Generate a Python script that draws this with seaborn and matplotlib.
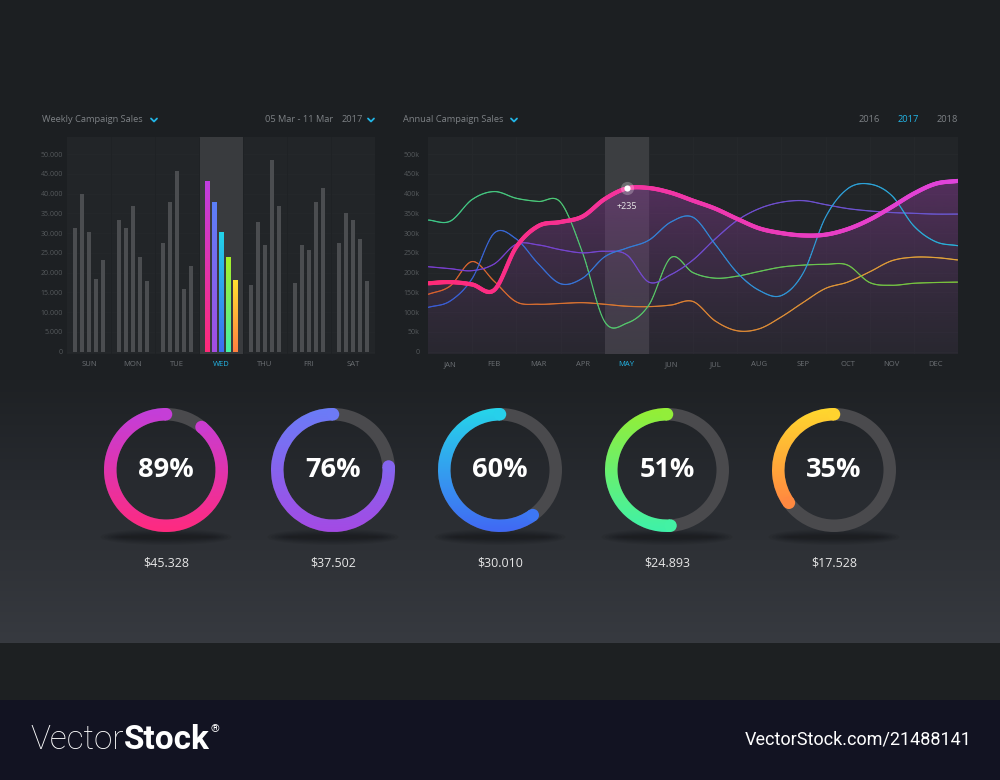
import numpy as np
import pandas as pd
import matplotlib
matplotlib.use("Agg")
import matplotlib.pyplot as plt
import seaborn as sns
from matplotlib.collections import LineCollection
from matplotlib.patches import Wedge, Circle, Ellipse, Polygon
from matplotlib.colors import to_rgb, LinearSegmentedColormap
from matplotlib.ticker import FuncFormatter

# ---- weekly campaign sales (5 campaigns per day) ----
days = ["SUN", "MON", "TUE", "WED", "THU", "FRI", "SAT"]
sales_a = [31200, 33300, 27600, 43200, 16800, 17400, 27600]
sales_b = [40000, 31300, 37800, 37800, 32700, 26900, 35200]
sales_c = [30200, 36900, 45800, 30200, 26900, 25600, 33400]
sales_d = [18500, 24000, 15900, 23900, 48500, 37800, 28500]
sales_e = [23200, 17800, 21800, 18000, 36900, 41300, 17800]
highlight_day = "WED"

# ---- annual campaign sales, in thousands, read every half month ----
months = ["JAN", "FEB", "MAR", "APR", "MAY", "JUN", "JUL", "AUG", "SEP", "OCT", "NOV", "DEC"]
half_month = np.arange(-0.5, 11.51, 0.5)
annual_main = [173, 176, 170, 156, 265, 318, 328, 342, 386, 413, 414, 402, 382,
               362, 336, 312, 300, 294, 296, 310, 334, 366, 400, 425, 432]
annual_green = [333, 330, 385, 405, 388, 380, 378, 250, 76, 72, 118, 238, 200,
                186, 191, 203, 214, 219, 221, 219, 175, 168, 173, 175, 176]
annual_blue = [112, 128, 185, 300, 285, 222, 172, 186, 240, 262, 282, 328, 340,
               272, 200, 155, 142, 200, 340, 412, 424, 395, 318, 278, 268]
annual_purple = [215, 210, 205, 222, 272, 270, 258, 250, 254, 245, 176, 195, 232,
                 285, 332, 362, 378, 382, 372, 362, 356, 352, 350, 348, 348]
annual_orange = [145, 166, 228, 178, 126, 120, 122, 124, 120, 115, 114, 118, 127,
                 78, 53, 58, 88, 125, 160, 176, 202, 230, 239, 238, 232]
highlight_month = "MAY"
marker_label = "+235"

# ---- progress rings ----
ring_pct = [89, 76, 60, 51, 35]
ring_amount = ["$45.328", "$37.502", "$30.010", "$24.893", "$17.528"]
ring_top = ["#c23fdc", "#6a7df8", "#26d6ea", "#96ee34", "#ffd82e"]
ring_bottom = ["#ff2a7f", "#a44ae4", "#4168f4", "#3ef2aa", "#ff7046"]

bar_top = ["#c03ee0", "#5a80f8", "#22d3e8", "#a8f028", "#ffe030"]
bar_bottom = ["#ff2a78", "#a54ce2", "#3d6cf2", "#44f0a4", "#ff8040"]

sns.set_theme(style="dark")
plt.rcParams["font.family"] = ["Open Sans", "DejaVu Sans"]

W, H = 1000, 780
fig = plt.figure(figsize=(10, 7.8), dpi=100)


def vgrad(c_top, c_bot, n=256, alpha=None):
    t = np.linspace(0, 1, n)[:, None]
    a, b = np.array(to_rgb(c_top)), np.array(to_rgb(c_bot))
    img = a * (1 - t) + b * t
    if alpha is not None:
        al = alpha[0] * (1 - t) + alpha[1] * t
        img = np.concatenate([img, al], axis=1)
    return img[:, None, :]


def smooth(xs, ys, n=20):
    xs = np.asarray(xs, float)
    ys = np.asarray(ys, float)
    m = np.gradient(ys, xs)
    t = np.linspace(0, 1, n, endpoint=False)
    ox, oy = [], []
    for i in range(len(xs) - 1):
        h = xs[i + 1] - xs[i]
        h00 = 2 * t**3 - 3 * t**2 + 1
        h10 = t**3 - 2 * t**2 + t
        h01 = -2 * t**3 + 3 * t**2
        h11 = t**3 - t**2
        oy.append(h00 * ys[i] + h10 * h * m[i] + h01 * ys[i + 1] + h11 * h * m[i + 1])
        ox.append(xs[i] + t * h)
    ox.append([xs[-1]])
    oy.append([ys[-1]])
    return np.concatenate(ox), np.concatenate(oy)


def gradient_line(ax, x, y, c0, c1, lw, z):
    pts = np.column_stack([x, y]).reshape(-1, 1, 2)
    segs = np.concatenate([pts[:-1], pts[1:]], axis=1)
    cmap = LinearSegmentedColormap.from_list("g", [c0, c1])
    lc = LineCollection(segs, cmap=cmap, linewidth=lw, zorder=z, capstyle="round")
    lc.set_array((x[:-1] + x[1:]) / 2)
    lc.set_clim(x.min(), x.max())
    ax.add_collection(lc)


# ---------------- background ----------------
ax_bg = fig.add_axes([0, 0, 1, 1])
ax_bg.set_xlim(0, W)
ax_bg.set_ylim(0, H)
ax_bg.axis("off")
stops_y = [0, 380, 470, 560, 642, 643, 699, 700, 780]
stops_c = ["#1c1f22", "#1e2124", "#26292e", "#2f3237", "#373a40",
           "#1d2022", "#1d2022", "#121322", "#121322"]
py = np.arange(H)
bg = np.stack([np.interp(py, stops_y, [to_rgb(c)[k] for c in stops_c]) for k in range(3)], axis=1)
ax_bg.imshow(bg[:, None, :], extent=[0, W, 0, H], origin="upper", aspect="auto", zorder=0)


def chevron(x, y):
    ax_bg.plot([x - 3, x, x + 3], [H - y + 1.5, H - y - 1.5, H - y + 1.5],
               color="#22b5e6", lw=1.3, solid_capstyle="round", zorder=2)


head = dict(fontsize=6.7, color="#7d8185", va="center", zorder=2)
ax_bg.text(42, H - 120, "Weekly Campaign Sales", **head)
chevron(154, 120)
ax_bg.text(265, H - 120, "05 Mar - 11 Mar", **head)
ax_bg.text(342, H - 120, "2017", **head)
chevron(371, 120)
ax_bg.text(403, H - 120, "Annual Campaign Sales", **head)
chevron(514, 120)
ax_bg.text(869, H - 120, "2016", ha="center", **head)
ax_bg.text(908, H - 120, "2017", ha="center", **{**head, "color": "#22b5e6"})
ax_bg.text(947, H - 120, "2018", ha="center", **head)

# ---------------- rings ----------------
R, thick = 62, 12.5
for i, pct in enumerate(ring_pct):
    cx, cy = 166 + 167 * i, H - 470
    for k in range(6):
        ax_bg.add_patch(Ellipse((cx, H - 537), 96 + 7 * k, 4 + 2.4 * k,
                                color="black", alpha=0.06, lw=0, zorder=1))
    ax_bg.add_patch(Wedge((cx, cy), R, 0, 360, width=thick, color="#4a4a4d", lw=0, zorder=2))
    th1, th2 = 90, 90 + 360 * pct / 100
    arc = Wedge((cx, cy), R, th1, th2, width=thick, facecolor="none", lw=0)
    ax_bg.add_patch(arc)
    im = ax_bg.imshow(vgrad(ring_top[i], ring_bottom[i]),
                      extent=[cx - R, cx + R, cy - R, cy + R],
                      origin="upper", aspect="auto", zorder=3)
    im.set_clip_path(arc)
    rm = R - thick / 2
    for th in (th1, th2):
        px, pyy = cx + rm * np.cos(np.radians(th)), cy + rm * np.sin(np.radians(th))
        t = np.clip((cy + R - pyy) / (2 * R), 0, 1)
        col = np.array(to_rgb(ring_top[i])) * (1 - t) + np.array(to_rgb(ring_bottom[i])) * t
        ax_bg.add_patch(Circle((px, pyy), thick / 2, color=col, lw=0, zorder=3))
    ax_bg.text(cx, cy, f"{pct}%", ha="center", va="center", fontsize=19.5,
               fontweight="bold", color="white", zorder=4)
    ax_bg.text(cx, H - 563, ring_amount[i], ha="center", va="center", fontsize=9,
               color="#e6e6e6", zorder=4)

# ---------------- footer ----------------
t1 = ax_bg.text(30, H - 740, "Vector", fontsize=24, fontweight="light",
                family=["Roboto", "DejaVu Sans"], color="white", va="center")
fig.canvas.draw()
bb = t1.get_window_extent()
t2 = ax_bg.text(bb.x1, H - 740, "Stock", fontsize=24, fontweight="bold",
                family=["Roboto", "DejaVu Sans"], color="white", va="center")
bb2 = t2.get_window_extent()
ax_bg.text(bb2.x1 + 1, H - 729, "®", fontsize=8, color="white", va="center",
           family=["Roboto", "DejaVu Sans"])
ax_bg.text(972, H - 740, "VectorStock.com/21488141", fontsize=13, ha="right",
           va="center", color="white", family=["Roboto", "DejaVu Sans"])

# ---------------- weekly bar chart ----------------
panel = "#222528"
ax_b = fig.add_axes([67 / W, 1 - 354 / H, 308 / W, 217 / H])
ax_b.set_facecolor(panel)
weekly = pd.DataFrame({
    "day": days * 5,
    "campaign": sum([[c] * 7 for c in "abcde"], []),
    "sales": sales_a + sales_b + sales_c + sales_d + sales_e,
})
hi = days.index(highlight_day)
ax_b.axvspan(hi - 0.5, hi + 0.5, color="#393b3e", lw=0, zorder=0.5)
n_before = len(ax_b.patches)
sns.barplot(data=weekly, x="day", y="sales", hue="campaign", order=days,
            palette=["#4b4d50"] * 5, width=0.8, gap=0.33, errorbar=None,
            saturation=1, legend=False, linewidth=0, edgecolor="none",
            ax=ax_b, zorder=2)
bars = ax_b.patches[n_before:]
wed_bars = sorted([p for p in bars
                   if abs(p.get_x() + p.get_width() / 2 - hi) < 0.5],
                  key=lambda p: p.get_x())
for k, p in enumerate(wed_bars):
    p.set_visible(False)
    x0, w, h = p.get_x(), p.get_width(), p.get_height()
    ax_b.imshow(vgrad(bar_top[k], bar_bottom[k]), extent=[x0, x0 + w, 0, h],
                origin="upper", aspect="auto", zorder=3)
ax_b.set_xlim(-0.5, 6.5)
ax_b.set_ylim(-580, 54300)
ax_b.set_yticks(np.arange(0, 50001, 5000))
ax_b.yaxis.set_major_formatter(FuncFormatter(lambda v, _: f"{v:,.0f}".replace(",", ".")))
for xv in np.arange(0.5, 6, 1):
    ax_b.axvline(xv, color="#1f2225", lw=0.7, zorder=1)
for yv in np.arange(0, 50001, 5000):
    ax_b.axhline(yv, color="#25282b", lw=0.5, zorder=0.4)
ax_b.set_xlabel("")
ax_b.set_ylabel("")
ax_b.tick_params(axis="y", length=0, pad=3, labelsize=5, labelcolor="#55595c")
ax_b.tick_params(axis="x", length=0, pad=5, labelsize=5.5, labelcolor="#6b6f73")
ax_b.get_xticklabels()[hi].set_color("#22b5e6")
for s in ax_b.spines.values():
    s.set_visible(False)
ax_b.grid(False)

# ---------------- annual line chart ----------------
ax_l = fig.add_axes([428 / W, 1 - 354 / H, 530 / W, 217 / H])
ax_l.set_facecolor(panel)
mi = months.index(highlight_month)
ax_l.axvspan(mi - 0.5, mi + 0.5, color="#3c3e41", lw=0, zorder=0.5)
for xv in np.arange(0.5, 11, 1):
    ax_l.axvline(xv, color="#26292c", lw=0.6, zorder=0.4)
for yv in np.arange(0, 501, 50):
    ax_l.axhline(yv, color="#26292c", lw=0.6, zorder=0.4)

mx, my = smooth(half_month, annual_main)
poly = Polygon(np.vstack([np.column_stack([mx, my]), [[11.5, -6], [-0.5, -6]]]),
               facecolor="none", lw=0)
ax_l.add_patch(poly)
fill = ax_l.imshow(vgrad("#8a3a96", "#5a3a6a", alpha=(0.5, 0.12)),
                   extent=[-0.5, 11.5, -6, 440], origin="upper", aspect="auto", zorder=1)
fill.set_clip_path(poly)

thin = [
    (annual_orange, "#d8602e", "#e2a63a"),
    (annual_green, "#3ec98a", "#7cc43a"),
    (annual_purple, "#7a3fd0", "#6a58d0"),
    (annual_blue, "#3b5cd6", "#2ab2d8"),
]
for vals, c0, c1 in thin:
    sx, sy = smooth(half_month, vals)
    gradient_line(ax_l, sx, sy, c0, c1, 0.85, 3)
gradient_line(ax_l, mx, my, "#ff2a78", "#e044dc", 3.0, 4)

peak = annual_main[list(half_month).index(float(mi))]
ax_l.scatter([mi], [peak], s=90, color="white", alpha=0.25, lw=0, zorder=5)
ax_l.scatter([mi], [peak], s=20, color="white", lw=0, zorder=6)
ax_l.annotate(marker_label, (mi, peak), xytext=(0, -13), textcoords="offset points",
              ha="center", va="center", fontsize=6.5, color="#e6e6e6", zorder=6)

ax_l.set_xlim(-0.5, 11.5)
ax_l.set_ylim(-5.8, 543)
ax_l.set_xticks(range(12))
ax_l.set_xticklabels(months)
ax_l.set_yticks(np.arange(0, 501, 50))
ax_l.set_yticklabels(["0"] + [f"{v}k" for v in range(50, 501, 50)])
ax_l.tick_params(axis="y", length=0, pad=6, labelsize=5, labelcolor="#55595c")
ax_l.tick_params(axis="x", length=0, pad=5, labelsize=5.5, labelcolor="#6b6f73")
ax_l.get_xticklabels()[mi].set_color("#22b5e6")
for s in ax_l.spines.values():
    s.set_visible(False)
ax_l.grid(False)

fig.savefig("out.png", dpi=100)
